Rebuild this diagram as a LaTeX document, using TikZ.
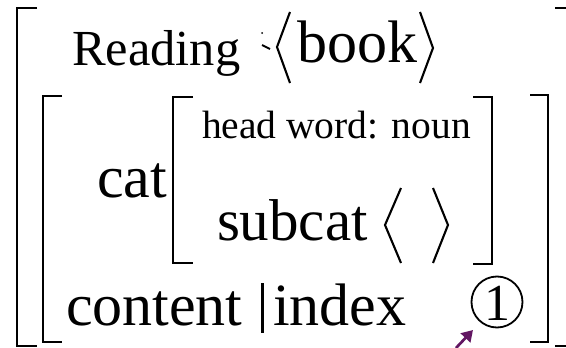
\documentclass[tikz,border=0pt]{standalone}
\usepackage{fontspec}
\setmainfont{Liberation Serif}
\usetikzlibrary{arrows.meta}
\definecolor{arrowpurple}{RGB}{98,22,98}
\tikzset{
  brk/.style={line width=2.6pt, line cap=butt, line join=miter},
  ang/.style={line width=2.1pt, line join=miter},
  txt/.style={anchor=base west, inner sep=0pt, outer sep=0pt},
}
\newcommand{\fs}[1]{\fontsize{#1}{#1}\selectfont}
\begin{document}
\begin{tikzpicture}[x=1pt,y=-1pt]
\useasboundingbox (0,0) rectangle (566,348);
% outer bracket
\draw[brk] (37,8) -- (17,8) -- (17,346) -- (37,346);
\draw[brk] (555,8) -- (566,8);
\draw[brk] (555,346) -- (566,346);
% inner bracket
\draw[brk] (62,96) -- (43,96) -- (43,342) -- (62,342);
\draw[brk] (530,95) -- (548,95) -- (548,342) -- (530,342);
% cat bracket
\draw[brk] (193,97) -- (173,97) -- (173,263) -- (193,263);
\draw[brk] (473,97) -- (492,97) -- (492,264) -- (473,264);
% texts
\node[txt] (reading) at (72,65) {\fs{50.5}Reading};
\draw[line width=2pt] (262,45) -- (270,49);
\fill (262,33) circle (1pt);
\draw[ang] (290,12) -- (277,47) -- (290,83);
\node[txt] (book) at (297,63) {\fs{60}book};
\draw[ang] (420,12) -- (433,48) -- (420,83);
\node[txt] (cat) at (97,197) {\fs{60}cat};
\node[txt] (head) at (202,138) {\fs{39.5}head word: noun};
\node[txt] (subcat) at (217,240) {\fs{59}subcat};
\draw[ang] (401,188) -- (385,225) -- (401,263);
\draw[ang] (433,188) -- (448,225) -- (433,263);
\node[txt] (content) at (66,325) {\fs{60}content};
\draw[line width=3pt] (262,283) -- (262,333);
\node[txt] (index) at (273,325) {\fs{60}index};
\node[draw, circle, line width=1.8pt, minimum size=51pt, inner sep=0pt] (one) at (497,302) {};
\node[anchor=base, inner sep=0pt] (onelabel) at (497,320) {\fs{52}1};
% arrow
\coordinate (atail) at (456,348);
\coordinate (ahead) at (473,330);
\draw[arrowpurple, line width=2.7pt, -{Triangle[width=13pt,length=11pt]}] (atail) -- (ahead);
\end{tikzpicture}
\end{document}
